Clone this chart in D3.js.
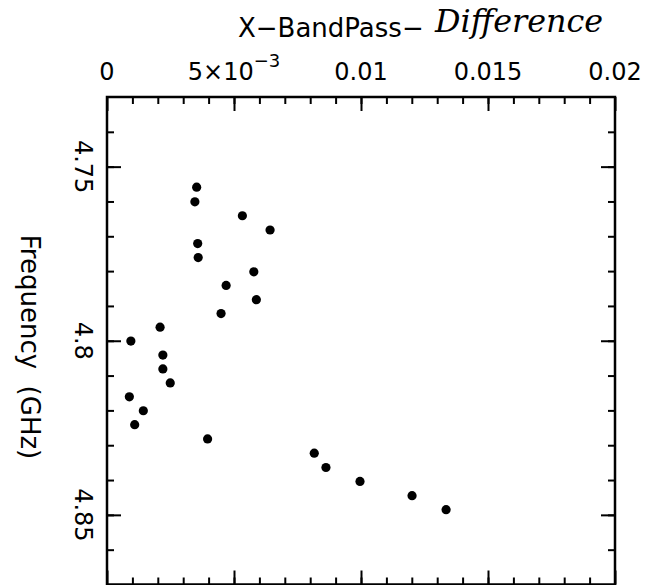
<!DOCTYPE html>
<html>
<head>
<meta charset="utf-8">
<script src="https://cdn.jsdelivr.net/npm/d3@7"></script>
<style>
  html, body { margin: 0; padding: 0; background: #fff; }
  svg { display: block; }
</style>
</head>
<body>
<svg id="chart" width="655" height="585"></svg>
<script>
// bandpass difference per channel
const diff = [0.00353, 0.00346, 0.00533, 0.00642, 0.00357, 0.00359, 0.00578, 0.00469,
              0.00588, 0.00449, 0.00209, 0.00094, 0.00220, 0.00220, 0.00249, 0.00088,
              0.00143, 0.00109, 0.00396, 0.00816, 0.00862, 0.00996, 0.01201, 0.01335]
const freq = [4.7559, 4.7601, 4.7641, 4.7682, 4.7721, 4.7761, 4.7802, 4.7841,
              4.7882, 4.7922, 4.7961, 4.8001, 4.8041, 4.8081, 4.8121, 4.8161,
              4.8201, 4.8241, 4.8282, 4.8323, 4.8364, 4.8404, 4.8445, 4.8485]

const xMajor = [0, 0.005, 0.01, 0.015, 0.02]
const xMinor = d3.range(1, 20).map(i => i / 1000)
const yMajor = [4.75, 4.8, 4.85]
const yMinor = d3.range(474, 487).map(i => i / 100)
const yLabels = ['4.75', '4.8', '4.85']

const plotL = 107, plotR = 615, plotT = 97, plotB = 584.5

const x = d3.scaleLinear().domain([0, 0.02]).range([plotL, plotR])
const y = d3.scaleLinear().domain([4.73, 4.87]).range([plotT, plotB])

const svg = d3.select('#chart')
const font = '"DejaVu Sans", sans-serif'

function ticks(axis, values, size, transform) {
    const g = svg.append('g')
        .attr('transform', transform)
        .call(axis.tickValues(values).tickSize(size).tickSizeOuter(0).tickFormat(''))
    g.select('.domain').remove()
    g.selectAll('line').attr('stroke', '#000').attr('stroke-width', 2)
}

// minor + major ticks on all four sides, pointing inward
ticks(d3.axisTop(x), xMinor, -7, `translate(0,${plotT})`)
ticks(d3.axisTop(x), xMajor, -14, `translate(0,${plotT})`)
ticks(d3.axisBottom(x), xMinor, -7, `translate(0,${plotB})`)
ticks(d3.axisBottom(x), xMajor, -14, `translate(0,${plotB})`)
ticks(d3.axisLeft(y), yMinor, -7, `translate(${plotL},0)`)
ticks(d3.axisLeft(y), yMajor, -14, `translate(${plotL},0)`)
ticks(d3.axisRight(y), yMinor, -7, `translate(${plotR},0)`)
ticks(d3.axisRight(y), yMajor, -14, `translate(${plotR},0)`)

svg.append('rect')
    .attr('x', plotL).attr('y', plotT)
    .attr('width', plotR - plotL).attr('height', plotB - plotT)
    .attr('fill', 'none')
    .attr('stroke', '#000')
    .attr('stroke-width', 2.5)

// top tick labels
xMajor.forEach(v => {
    const t = svg.append('text')
        .attr('x', x(v))
        .attr('y', 80)
        .attr('text-anchor', 'middle')
        .attr('font-family', font)
        .attr('font-size', 24)
    if (v === 0.005) {
        t.append('tspan').text('5×10')
        t.append('tspan').attr('dy', -13).attr('font-size', 18).text('−3')
    } else {
        t.text(d3.format('')(v))
    }
})

// left tick labels, rotated
yMajor.forEach((v, i) => {
    svg.append('text')
        .attr('transform', `translate(75,${y(v)}) rotate(90)`)
        .attr('text-anchor', 'middle')
        .attr('font-family', font)
        .attr('font-size', 24)
        .text(yLabels[i])
})

svg.append('text')
    .attr('transform', 'translate(21,347) rotate(90)')
    .attr('text-anchor', 'middle')
    .attr('font-family', font)
    .attr('font-size', 26)
    .attr('xml:space', 'preserve')
    .text('Frequency  (GHz)')

svg.append('text')
    .attr('x', 238)
    .attr('y', 37)
    .attr('font-family', font)
    .attr('font-size', 26)
    .text('X−BandPass−')

svg.append('text')
    .attr('x', 435)
    .attr('y', 32)
    .attr('font-family', '"DejaVu Serif", serif')
    .attr('font-style', 'italic')
    .attr('font-size', 32)
    .attr('textLength', 168)
    .attr('lengthAdjust', 'spacingAndGlyphs')
    .text('Difference')

svg.append('g')
    .selectAll('circle')
    .data(diff)
    .enter().append('circle')
    .attr('cx', d => x(d))
    .attr('cy', (d, i) => y(freq[i]))
    .attr('r', 4.6)
    .attr('fill', '#000')
</script>
</body>
</html>
